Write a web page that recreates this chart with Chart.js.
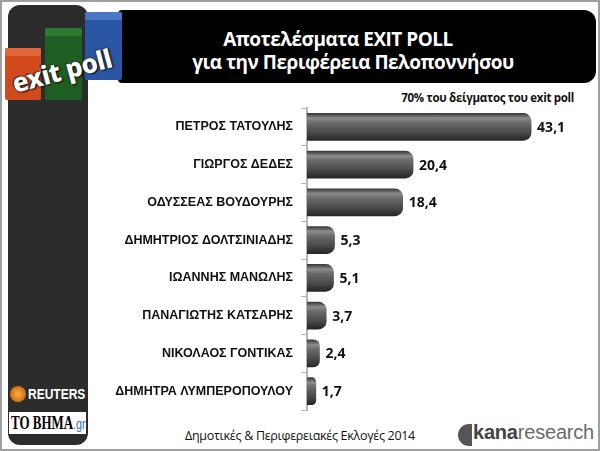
<!DOCTYPE html>
<html>
<head>
<meta charset="utf-8">
<script src="https://cdn.jsdelivr.net/npm/chart.js@4.4.1/dist/chart.umd.min.js"></script>
<style>
  body { margin: 0; width: 600px; height: 451px; overflow: hidden; background: #fff; position: relative; }
  .abs { position: absolute; }
  #frame { left: 0; top: 0; width: 600px; height: 451px; box-sizing: border-box; border: 2px solid #a0a0a0; }
  #panel { left: 8px; top: 5px; width: 80px; height: 440px; background: #2c2c2c; border-radius: 12px; }
  #banner { left: 118px; top: 10px; width: 478px; height: 73px; background: #000; border-radius: 4px 12px 12px 4px; }
  .title { color: #fff; font-family: "Open Sans", sans-serif; font-weight: 700; font-size: 19px; letter-spacing: -0.5px; width: 420px; text-align: center; white-space: nowrap; }
  #sub { left: 300px; width: 274px; top: 90px; text-align: right; font-family: "Open Sans", sans-serif; font-weight: 700; font-size: 11.5px; letter-spacing: -0.3px; color: #111; }
  #foot { left: 140px; width: 320px; top: 427px; text-align: center; font-family: "Open Sans", sans-serif; font-size: 12.5px; letter-spacing: -0.3px; color: #111; }
  .blk { border-radius: 2px; }
  #exit { left: 8px; color: #fff; font-family: "Noto Sans", sans-serif; font-weight: 800; font-size: 26px; transform: rotate(-15deg); transform-origin: left top; text-shadow: 1px 1px 2px #000, -1px -1px 1px #333; letter-spacing: -0.5px; white-space: nowrap; }
  #reuters { left: 28px; top: 385px; color: #fff; font-family: "Liberation Sans", sans-serif; font-weight: 700; font-size: 15px; transform: scaleX(0.8); transform-origin: left top; white-space: nowrap; }
  #rdot { left: 10px; top: 386px; width: 16px; height: 16px; border-radius: 50%; background: radial-gradient(circle, #f7b040 0%, #d97a16 60%, #8a4a10 100%); }
  #bhma { left: 9px; top: 412px; width: 77px; height: 22px; background: #fff; overflow: hidden; }
  #bhmatxt { left: 2px; top: 0; font-family: "Liberation Serif", serif; font-weight: 700; font-size: 18px; line-height: 22px; color: #000; white-space: nowrap; transform: scaleX(0.72); transform-origin: left top; }
  #bhmatxt span { color: #3a6fb5; font-family: "Liberation Sans", sans-serif; font-weight: 400; font-size: 15px; }
  #kana { left: 473px; top: 421px; font-family: "Liberation Sans", sans-serif; font-size: 20px; color: #6a6a6a; white-space: nowrap; letter-spacing: -0.2px; }
  #kana b { color: #444; }
  #kanaicon { left: 458px; top: 424px; width: 14px; height: 22px; background: #555; border-radius: 14px 0 0 14px; }
  #chartbox { left: 0; top: 0; width: 600px; height: 451px; }
</style>
</head>
<body>
<div id="frame" class="abs"></div>
<div id="panel" class="abs"></div>
<div id="banner" class="abs"></div>
<div class="abs blk" style="left:85px;top:12px;width:37px;height:68px;background:#2a56a3;"></div>
<div class="abs blk" style="left:85px;top:12px;width:37px;height:8px;background:#4a78c4;"></div>
<div class="abs blk" style="left:45px;top:28px;width:37px;height:72px;background:#1f5e22;"></div>
<div class="abs blk" style="left:45px;top:28px;width:37px;height:8px;background:#2f7a32;"></div>
<div class="abs blk" style="left:5px;top:48px;width:36px;height:52px;background:#d04a1c;"></div>
<div class="abs blk" style="left:5px;top:48px;width:36px;height:8px;background:#e2673a;"></div>
<div id="exit" class="abs" style="top:66px;">exit poll</div>
<div class="abs title" style="left:128px;top:26px;">Αποτελέσματα EXIT POLL</div>
<div class="abs title" style="left:143px;top:49px;">για την Περιφέρεια Πελοποννήσου</div>
<div id="sub" class="abs">70% του δείγματος του exit poll</div>
<div id="rdot" class="abs"></div>
<div id="reuters" class="abs">REUTERS</div>
<div id="bhma" class="abs"><div id="bhmatxt" class="abs">TO BHMA<span>.gr</span></div></div>
<div id="foot" class="abs">Δημοτικές &amp; Περιφερειακές Εκλογές 2014</div>
<div id="kanaicon" class="abs"></div>
<div id="kana" class="abs"><b>kana</b>research</div>
<div id="chartbox" class="abs"><canvas id="chart" width="600" height="451"></canvas></div>

<script>
// exit poll results, % (70% of sample)
const candidates = [
  "ΠΕΤΡΟΣ ΤΑΤΟΥΛΗΣ",
  "ΓΙΩΡΓΟΣ ΔΕΔΕΣ",
  "ΟΔΥΣΣΕΑΣ ΒΟΥΔΟΥΡΗΣ",
  "ΔΗΜΗΤΡΙΟΣ ΔΟΛΤΣΙΝΙΑΔΗΣ",
  "ΙΩΑΝΝΗΣ ΜΑΝΩΛΗΣ",
  "ΠΑΝΑΓΙΩΤΗΣ ΚΑΤΣΑΡΗΣ",
  "ΝΙΚΟΛΑΟΣ ΓΟΝΤΙΚΑΣ",
  "ΔΗΜΗΤΡΑ ΛΥΜΠΕΡΟΠΟΥΛΟΥ"
];
const shares = [43.1, 20.4, 18.4, 5.3, 5.1, 3.7, 2.4, 1.7];

const barH = 27;

function barFill(context) {
  const chart = context.chart;
  if (!chart.chartArea || context.dataIndex === undefined) return "#555";
  const y = chart.scales.y.getPixelForValue(context.dataIndex);
  const g = chart.ctx.createLinearGradient(0, y - barH / 2, 0, y + barH / 2);
  g.addColorStop(0, "#3a3a3a");
  g.addColorStop(0.18, "#8c8c8c");
  g.addColorStop(0.35, "#6a6a6a");
  g.addColorStop(0.7, "#4a4a4a");
  g.addColorStop(1, "#262626");
  return g;
}

// value labels with greek decimal comma
const valueLabels = {
  id: "valueLabels",
  afterDatasetsDraw(chart) {
    const ctx = chart.ctx;
    const meta = chart.getDatasetMeta(0);
    ctx.save();
    ctx.font = "bold 14px 'Open Sans', sans-serif";
    ctx.fillStyle = "#111";
    ctx.textBaseline = "middle";
    meta.data.forEach(function (bar, i) {
      ctx.fillText(shares[i].toFixed(1).replace(".", ","), bar.x + 6, bar.y + 1);
    });
    ctx.restore();
  }
};

new Chart(document.getElementById("chart"), {
  type: "bar",
  data: {
    labels: candidates,
    datasets: [{
      data: shares,
      backgroundColor: barFill,
      borderWidth: 0,
      borderRadius: 8,
      barThickness: barH
    }]
  },
  options: {
    indexAxis: "y",
    responsive: false,
    animation: false,
    layout: { padding: { top: 108, bottom: 41, left: 90, right: 7 } },
    plugins: { legend: { display: false }, tooltip: { enabled: false } },
    scales: {
      x: { display: false, min: 0, max: 55 },
      y: {
        afterFit(scale) { scale.width = 217; },
        border: { display: true, color: "#b5b5b5", width: 2 },
        grid: { drawOnChartArea: false, drawTicks: true, tickLength: 6, color: "#b5b5b5", offset: true },
        ticks: {
          padding: 8,
          color: "#111",
          font: { family: "'Liberation Sans', Arial, sans-serif", weight: 700, size: 12.5 }
        }
      }
    }
  },
  plugins: [valueLabels]
});
</script>
</body>
</html>
